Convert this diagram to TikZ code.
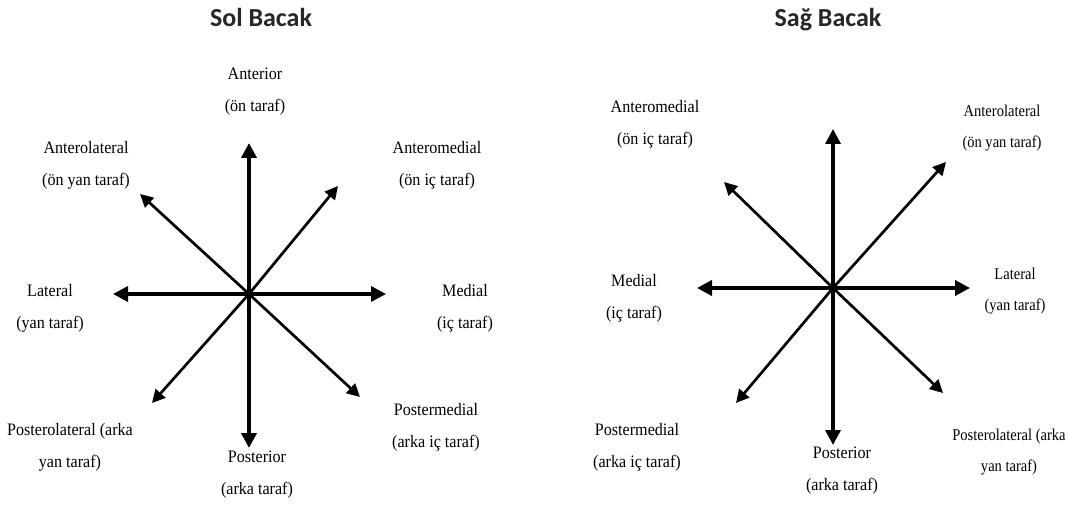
\documentclass[tikz,border=0pt]{standalone}
\usepackage{fontspec}
\setmainfont{Liberation Serif}
\newfontfamily\titlefont{Carlito}
\usetikzlibrary{arrows.meta}
\definecolor{titlegray}{HTML}{262626}
\tikzset{
  lbl/.style={align=center, inner sep=0pt, text=black,
    font=\addfontfeatures{FakeStretch=0.92}\fontsize{17.5}{32}\selectfont},
  lblsmall/.style={lbl, font=\addfontfeatures{FakeStretch=0.88}\fontsize{16.5}{31}\selectfont},
  ttl/.style={inner sep=0pt, anchor=base, text=titlegray, font=\titlefont\bfseries\fontsize{26}{30}\selectfont},
  axisarrow/.style={line width=3.6pt, -{Triangle[length=15pt,width=15pt]}},
  diagarrow/.style={line width=2.7pt, -{Triangle[length=13pt,width=13pt]}},
}
\begin{document}
\begin{tikzpicture}[x=1pt,y=-1pt]
\useasboundingbox (0,0) rectangle (1079,505);
% ---------- Sol Bacak ----------
\node[ttl] (t1) at (261,27) {Sol Bacak};
\coordinate (c1) at (249,294);
\coordinate (n1) at (249,143);
\coordinate (s1) at (249,448);
\coordinate (w1) at (113,294);
\coordinate (e1) at (386,294);
\coordinate (nw1) at (140,194);
\coordinate (ne1) at (338,186);
\coordinate (sw1) at (152,403);
\coordinate (se1) at (360,397);
\draw[diagarrow] (c1) -- (nw1);
\draw[diagarrow] (c1) -- (ne1);
\draw[diagarrow] (c1) -- (sw1);
\draw[diagarrow] (c1) -- (se1);
\draw[axisarrow, line width=4pt] (c1) -- (n1);
\draw[axisarrow, line width=4pt] (c1) -- (s1);
\draw[axisarrow, line width=3.4pt] (c1) -- (w1);
\draw[axisarrow, line width=3.4pt] (c1) -- (e1);
\node[lbl] (la1) at (255,92) {Anterior\\(ön taraf)};
\node[lbl] (lal1) at (86,165) {Anterolateral\\(ön yan taraf)};
\node[lbl] (lam1) at (437,165) {Anteromedial\\(ön iç taraf)};
\node[lbl] (ll1) at (50,308) {Lateral\\(yan taraf)};
\node[lbl] (lm1) at (465,308) {Medial\\(iç taraf)};
\node[lbl] (lpl1) at (70,447) {Posterolateral (arka\\yan taraf)};
\node[lbl] (lpm1) at (436,427) {Postermedial\\(arka iç taraf)};
\node[lbl] (lp1) at (257,475) {Posterior\\(arka taraf)};
% ---------- Sağ Bacak ----------
\node[ttl] (t2) at (828,27) {Sağ Bacak};
\coordinate (c2) at (833,288);
\coordinate (n2) at (833,129);
\coordinate (s2) at (833,445);
\coordinate (w2) at (697,288);
\coordinate (e2) at (970,288);
\coordinate (nw2) at (724,182);
\coordinate (ne2) at (946,162);
\coordinate (sw2) at (736,403);
\coordinate (se2) at (943,393);
\draw[diagarrow] (c2) -- (nw2);
\draw[diagarrow] (c2) -- (ne2);
\draw[diagarrow] (c2) -- (sw2);
\draw[diagarrow] (c2) -- (se2);
\draw[axisarrow, line width=3.4pt] (c2) -- (n2);
\draw[axisarrow, line width=3.4pt] (c2) -- (s2);
\draw[axisarrow, line width=4pt] (c2) -- (w2);
\draw[axisarrow, line width=4pt] (c2) -- (e2);
\node[lbl] (lam2) at (655,124) {Anteromedial\\(ön iç taraf)};
\node[lblsmall] (lal2) at (1002,128) {Anterolateral\\(ön yan taraf)};
\node[lbl] (lm2) at (634,298) {Medial\\(iç taraf)};
\node[lblsmall] (ll2) at (1015,291) {Lateral\\(yan taraf)};
\node[lbl] (lpm2) at (637,447) {Postermedial\\(arka iç taraf)};
\node[lbl] (lp2) at (842,471) {Posterior\\(arka taraf)};
\node[lblsmall] (lpl2) at (1009,452) {Posterolateral (arka\\yan taraf)};
\end{tikzpicture}
\end{document}
